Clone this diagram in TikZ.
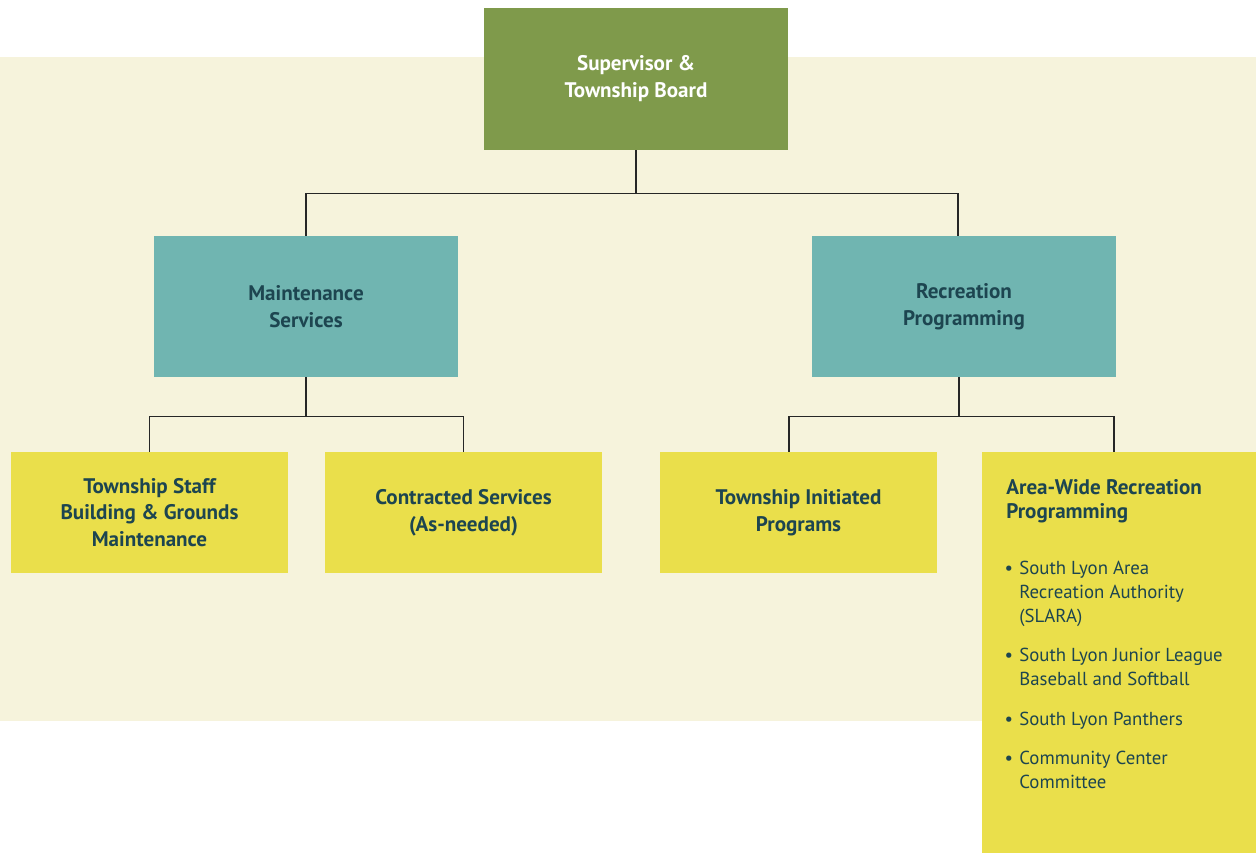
\documentclass[tikz,border=0pt]{standalone}
\usepackage{fontspec}
\setmainfont{PT Sans}
\usetikzlibrary{positioning}
\definecolor{boardcol}{HTML}{7F9A4B}
\definecolor{deptcol}{HTML}{70B5B1}
\definecolor{unitcol}{HTML}{EADF4B}
\definecolor{backcol}{HTML}{F6F3DC}
\definecolor{inkcol}{HTML}{1D4550}
\tikzstyle{box}=[inner sep=0pt,align=center,font=\bfseries\fontsize{12}{15.3}\selectfont]
\tikzstyle{board}=[box,fill=boardcol,text=white,minimum width=6.08cm,minimum height=2.84cm]
\tikzstyle{dept}=[box,fill=deptcol,text=inkcol,minimum width=6.08cm,minimum height=2.82cm]
\tikzstyle{unit}=[box,fill=unitcol,text=inkcol,minimum width=5.54cm,minimum height=2.42cm]
\tikzstyle{item}=[inner sep=0pt,align=left,anchor=north west,text=inkcol,font=\fontsize{10.7}{13.6}\selectfont]
\tikzstyle{edge} = [draw,line width=0.8pt,black!85]

\begin{document}
\begin{tikzpicture}[x=0.02cm,y=-0.02cm]
    \useasboundingbox (0,0) rectangle (1256,853);
    \fill[backcol] (0,57) rectangle (1256,721);
    % First we draw the boxes
    \node[board] (board) at (636,79) {Supervisor \&\\Township Board};
    \foreach \pos/\name/\txt in {{(306,306.5)/maint/Maintenance\\Services}, {(964,306.5)/rec/Recreation\\Programming}}
        \node[dept] (\name) at \pos {\txt};
    \foreach \pos/\name/\txt in {{(149.5,512.5)/staff/Township Staff\\Building \& Grounds\\Maintenance}, {(463.5,512.5)/contract/Contracted Services\\(As-needed)}, {(798.5,512.5)/initiated/Township Initiated\\Programs}}
        \node[unit] (\name) at \pos {\txt};
    \node[unit,minimum width=5.48cm,minimum height=8.02cm] (area) at (1119,652.5) {};
    % Then the list in the last box
    \node[item,font=\bfseries\fontsize{12}{13.6}\selectfont] (areatitle) at (1006,479) {Area-Wide Recreation\\Programming};
    \foreach \y/\name/\txt in {561/slara/South Lyon Area\\Recreation Authority\\(SLARA), 648/junior/South Lyon Junior League\\Baseball and Softball, 712/panthers/South Lyon Panthers, 751/center/Community Center\\Committee}
        \node[item] (\name) at (1019,\y) {\llap{\textbullet\hspace{3.5pt}}\txt};
    % Connect boxes with lines
    \path[edge] (board.south) -- ++(0,43) -| (maint.north);
    \path[edge] (board.south) ++(0,43) -| ([xshift=-0.12cm]rec.north);
    \path[edge] (maint.south) -- ++(0,39) -| (staff.north);
    \path[edge] (maint.south) ++(0,39) -| (contract.north);
    \path[edge] ([xshift=-0.1cm]rec.south) -- ++(0,39) -| ([xshift=-0.19cm]initiated.north);
    \path[edge] ([xshift=-0.1cm]rec.south) ++(0,39) -| ([xshift=-0.1cm]area.north);
\end{tikzpicture}
\end{document}
